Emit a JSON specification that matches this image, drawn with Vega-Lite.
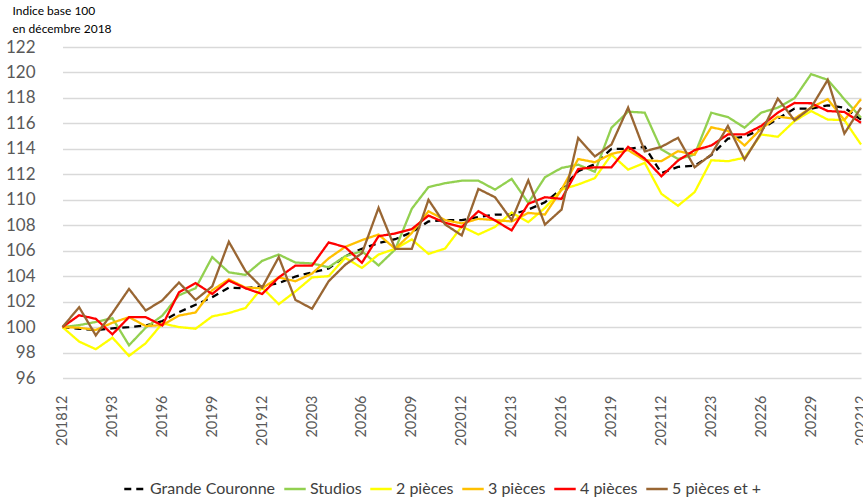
{
"$schema": "https://vega.github.io/schema/vega-lite/v6.json",
"autosize": {"type": "none"},
"padding": {"left": 53, "top": 47, "right": 0, "bottom": 119},
"width": 810,
"height": 331,
"background": "white",
"config": {"view": {"stroke": null}, "font": "Lato"},
"data": {"values": [
{"m":"201812","s":"Grande Couronne","v":100},{"m":"20191","s":"Grande Couronne","v":99.87},{"m":"20192","s":"Grande Couronne","v":99.77},{"m":"20193","s":"Grande Couronne","v":99.9},{"m":"20194","s":"Grande Couronne","v":100.0},{"m":"20195","s":"Grande Couronne","v":100.13},{"m":"20196","s":"Grande Couronne","v":100.47},{"m":"20197","s":"Grande Couronne","v":101.17},{"m":"20198","s":"Grande Couronne","v":101.75},{"m":"20199","s":"Grande Couronne","v":102.35},{"m":"201910","s":"Grande Couronne","v":103.1},{"m":"201911","s":"Grande Couronne","v":103.05},{"m":"201912","s":"Grande Couronne","v":103.2},{"m":"20201","s":"Grande Couronne","v":103.45},{"m":"20202","s":"Grande Couronne","v":103.97},{"m":"20203","s":"Grande Couronne","v":104.3},{"m":"20204","s":"Grande Couronne","v":104.6},{"m":"20205","s":"Grande Couronne","v":105.57},{"m":"20206","s":"Grande Couronne","v":106.15},{"m":"20207","s":"Grande Couronne","v":106.6},{"m":"20208","s":"Grande Couronne","v":106.9},{"m":"20209","s":"Grande Couronne","v":107.45},{"m":"202010","s":"Grande Couronne","v":108.3},{"m":"202011","s":"Grande Couronne","v":108.4},{"m":"202012","s":"Grande Couronne","v":108.4},{"m":"20211","s":"Grande Couronne","v":108.65},{"m":"20212","s":"Grande Couronne","v":108.84},{"m":"20213","s":"Grande Couronne","v":108.84},{"m":"20214","s":"Grande Couronne","v":109.23},{"m":"20215","s":"Grande Couronne","v":109.8},{"m":"20216","s":"Grande Couronne","v":110.85},{"m":"20217","s":"Grande Couronne","v":112.24},{"m":"20218","s":"Grande Couronne","v":112.8},{"m":"20219","s":"Grande Couronne","v":114.0},{"m":"202110","s":"Grande Couronne","v":114.0},{"m":"202111","s":"Grande Couronne","v":114.16},{"m":"202112","s":"Grande Couronne","v":112.1},{"m":"20221","s":"Grande Couronne","v":112.58},{"m":"20222","s":"Grande Couronne","v":112.68},{"m":"20223","s":"Grande Couronne","v":113.5},{"m":"20224","s":"Grande Couronne","v":114.8},{"m":"20225","s":"Grande Couronne","v":114.95},{"m":"20226","s":"Grande Couronne","v":115.53},{"m":"20227","s":"Grande Couronne","v":116.37},{"m":"20228","s":"Grande Couronne","v":117.16},{"m":"20229","s":"Grande Couronne","v":117.16},{"m":"202210","s":"Grande Couronne","v":117.42},{"m":"202211","s":"Grande Couronne","v":117.24},{"m":"202212","s":"Grande Couronne","v":116.3},
{"m":"201812","s":"Studios","v":100},{"m":"20191","s":"Studios","v":100.15},{"m":"20192","s":"Studios","v":100.4},{"m":"20193","s":"Studios","v":100.7},{"m":"20194","s":"Studios","v":98.57},{"m":"20195","s":"Studios","v":99.95},{"m":"20196","s":"Studios","v":100.9},{"m":"20197","s":"Studios","v":102.5},{"m":"20198","s":"Studios","v":103.05},{"m":"20199","s":"Studios","v":105.5},{"m":"201910","s":"Studios","v":104.3},{"m":"201911","s":"Studios","v":104.1},{"m":"201912","s":"Studios","v":105.2},{"m":"20201","s":"Studios","v":105.7},{"m":"20202","s":"Studios","v":105.07},{"m":"20203","s":"Studios","v":105.0},{"m":"20204","s":"Studios","v":104.7},{"m":"20205","s":"Studios","v":105.57},{"m":"20206","s":"Studios","v":105.96},{"m":"20207","s":"Studios","v":104.84},{"m":"20208","s":"Studios","v":106.1},{"m":"20209","s":"Studios","v":109.3},{"m":"202010","s":"Studios","v":111.0},{"m":"202011","s":"Studios","v":111.3},{"m":"202012","s":"Studios","v":111.5},{"m":"20211","s":"Studios","v":111.5},{"m":"20212","s":"Studios","v":110.8},{"m":"20213","s":"Studios","v":111.64},{"m":"20214","s":"Studios","v":109.75},{"m":"20215","s":"Studios","v":111.77},{"m":"20216","s":"Studios","v":112.5},{"m":"20217","s":"Studios","v":112.76},{"m":"20218","s":"Studios","v":112.2},{"m":"20219","s":"Studios","v":115.66},{"m":"202110","s":"Studios","v":116.92},{"m":"202111","s":"Studios","v":116.84},{"m":"202112","s":"Studios","v":113.95},{"m":"20221","s":"Studios","v":113.2},{"m":"20222","s":"Studios","v":113.55},{"m":"20223","s":"Studios","v":116.84},{"m":"20224","s":"Studios","v":116.5},{"m":"20225","s":"Studios","v":115.66},{"m":"20226","s":"Studios","v":116.84},{"m":"20227","s":"Studios","v":117.24},{"m":"20228","s":"Studios","v":117.97},{"m":"20229","s":"Studios","v":119.87},{"m":"202210","s":"Studios","v":119.42},{"m":"202211","s":"Studios","v":117.9},{"m":"202212","s":"Studios","v":116.45},
{"m":"201812","s":"2 pièces","v":100},{"m":"20191","s":"2 pièces","v":98.86},{"m":"20192","s":"2 pièces","v":98.26},{"m":"20193","s":"2 pièces","v":99.17},{"m":"20194","s":"2 pièces","v":97.74},{"m":"20195","s":"2 pièces","v":98.73},{"m":"20196","s":"2 pièces","v":100.29},{"m":"20197","s":"2 pièces","v":100.0},{"m":"20198","s":"2 pièces","v":99.87},{"m":"20199","s":"2 pièces","v":100.84},{"m":"201910","s":"2 pièces","v":101.1},{"m":"201911","s":"2 pièces","v":101.5},{"m":"201912","s":"2 pièces","v":103.1},{"m":"20201","s":"2 pièces","v":101.8},{"m":"20202","s":"2 pièces","v":102.8},{"m":"20203","s":"2 pièces","v":103.9},{"m":"20204","s":"2 pièces","v":104.0},{"m":"20205","s":"2 pièces","v":105.44},{"m":"20206","s":"2 pièces","v":104.65},{"m":"20207","s":"2 pièces","v":105.7},{"m":"20208","s":"2 pièces","v":106.15},{"m":"20209","s":"2 pièces","v":106.88},{"m":"202010","s":"2 pièces","v":105.75},{"m":"202011","s":"2 pièces","v":106.17},{"m":"202012","s":"2 pièces","v":107.9},{"m":"20211","s":"2 pièces","v":107.27},{"m":"20212","s":"2 pièces","v":107.87},{"m":"20213","s":"2 pièces","v":109.0},{"m":"20214","s":"2 pièces","v":108.24},{"m":"20215","s":"2 pièces","v":109.36},{"m":"20216","s":"2 pièces","v":110.8},{"m":"20217","s":"2 pièces","v":111.2},{"m":"20218","s":"2 pièces","v":111.7},{"m":"20219","s":"2 pièces","v":113.55},{"m":"202110","s":"2 pièces","v":112.37},{"m":"202111","s":"2 pièces","v":112.9},{"m":"202112","s":"2 pièces","v":110.47},{"m":"20221","s":"2 pièces","v":109.53},{"m":"20222","s":"2 pièces","v":110.6},{"m":"20223","s":"2 pièces","v":113.1},{"m":"20224","s":"2 pièces","v":113.03},{"m":"20225","s":"2 pièces","v":113.3},{"m":"20226","s":"2 pièces","v":115.13},{"m":"20227","s":"2 pièces","v":114.95},{"m":"20228","s":"2 pièces","v":116.18},{"m":"20229","s":"2 pièces","v":116.97},{"m":"202210","s":"2 pièces","v":116.3},{"m":"202211","s":"2 pièces","v":116.26},{"m":"202212","s":"2 pièces","v":114.34},
{"m":"201812","s":"3 pièces","v":100},{"m":"20191","s":"3 pièces","v":99.95},{"m":"20192","s":"3 pièces","v":99.77},{"m":"20193","s":"3 pièces","v":100.34},{"m":"20194","s":"3 pièces","v":100.78},{"m":"20195","s":"3 pièces","v":100.08},{"m":"20196","s":"3 pièces","v":100.15},{"m":"20197","s":"3 pièces","v":100.9},{"m":"20198","s":"3 pièces","v":101.15},{"m":"20199","s":"3 pièces","v":102.9},{"m":"201910","s":"3 pièces","v":103.75},{"m":"201911","s":"3 pièces","v":103.1},{"m":"201912","s":"3 pièces","v":103.05},{"m":"20201","s":"3 pièces","v":103.9},{"m":"20202","s":"3 pièces","v":103.6},{"m":"20203","s":"3 pièces","v":104.2},{"m":"20204","s":"3 pièces","v":105.4},{"m":"20205","s":"3 pièces","v":106.3},{"m":"20206","s":"3 pièces","v":106.83},{"m":"20207","s":"3 pièces","v":107.27},{"m":"20208","s":"3 pièces","v":106.15},{"m":"20209","s":"3 pièces","v":107.4},{"m":"202010","s":"3 pièces","v":109.1},{"m":"202011","s":"3 pièces","v":108.4},{"m":"202012","s":"3 pièces","v":108.15},{"m":"20211","s":"3 pièces","v":108.5},{"m":"20212","s":"3 pièces","v":108.4},{"m":"20213","s":"3 pièces","v":108.3},{"m":"20214","s":"3 pièces","v":108.97},{"m":"20215","s":"3 pièces","v":108.84},{"m":"20216","s":"3 pièces","v":110.8},{"m":"20217","s":"3 pièces","v":113.2},{"m":"20218","s":"3 pièces","v":112.95},{"m":"20219","s":"3 pièces","v":113.6},{"m":"202110","s":"3 pièces","v":113.9},{"m":"202111","s":"3 pièces","v":113.1},{"m":"202112","s":"3 pièces","v":113.03},{"m":"20221","s":"3 pièces","v":113.82},{"m":"20222","s":"3 pièces","v":113.55},{"m":"20223","s":"3 pièces","v":115.7},{"m":"20224","s":"3 pièces","v":115.4},{"m":"20225","s":"3 pièces","v":114.26},{"m":"20226","s":"3 pièces","v":115.58},{"m":"20227","s":"3 pièces","v":116.53},{"m":"20228","s":"3 pièces","v":116.37},{"m":"20229","s":"3 pièces","v":117.24},{"m":"202210","s":"3 pièces","v":117.9},{"m":"202211","s":"3 pièces","v":116.26},{"m":"202212","s":"3 pièces","v":117.9},
{"m":"201812","s":"4 pièces","v":100},{"m":"20191","s":"4 pièces","v":100.93},{"m":"20192","s":"4 pièces","v":100.65},{"m":"20193","s":"4 pièces","v":99.43},{"m":"20194","s":"4 pièces","v":100.78},{"m":"20195","s":"4 pièces","v":100.78},{"m":"20196","s":"4 pièces","v":100.13},{"m":"20197","s":"4 pièces","v":102.73},{"m":"20198","s":"4 pièces","v":103.45},{"m":"20199","s":"4 pièces","v":102.6},{"m":"201910","s":"4 pièces","v":103.65},{"m":"201911","s":"4 pièces","v":103.05},{"m":"201912","s":"4 pièces","v":102.6},{"m":"20201","s":"4 pièces","v":103.9},{"m":"20202","s":"4 pièces","v":104.83},{"m":"20203","s":"4 pièces","v":104.83},{"m":"20204","s":"4 pièces","v":106.65},{"m":"20205","s":"4 pièces","v":106.28},{"m":"20206","s":"4 pièces","v":105.05},{"m":"20207","s":"4 pièces","v":107.14},{"m":"20208","s":"4 pièces","v":107.35},{"m":"20209","s":"4 pièces","v":107.7},{"m":"202010","s":"4 pièces","v":108.76},{"m":"202011","s":"4 pièces","v":108.19},{"m":"202012","s":"4 pièces","v":107.85},{"m":"20211","s":"4 pièces","v":109.1},{"m":"20212","s":"4 pièces","v":108.37},{"m":"20213","s":"4 pièces","v":107.6},{"m":"20214","s":"4 pièces","v":109.68},{"m":"20215","s":"4 pièces","v":110.2},{"m":"20216","s":"4 pièces","v":110.07},{"m":"20217","s":"4 pièces","v":112.42},{"m":"20218","s":"4 pièces","v":112.55},{"m":"20219","s":"4 pièces","v":112.55},{"m":"202110","s":"4 pièces","v":114.16},{"m":"202111","s":"4 pièces","v":113.24},{"m":"202112","s":"4 pièces","v":111.84},{"m":"20221","s":"4 pièces","v":113.08},{"m":"20222","s":"4 pièces","v":113.9},{"m":"20223","s":"4 pièces","v":114.26},{"m":"20224","s":"4 pièces","v":115.13},{"m":"20225","s":"4 pièces","v":115.13},{"m":"20226","s":"4 pièces","v":115.8},{"m":"20227","s":"4 pièces","v":116.84},{"m":"20228","s":"4 pièces","v":117.6},{"m":"20229","s":"4 pièces","v":117.58},{"m":"202210","s":"4 pièces","v":116.97},{"m":"202211","s":"4 pièces","v":116.9},{"m":"202212","s":"4 pièces","v":116.05},
{"m":"201812","s":"5 pièces et +","v":100},{"m":"20191","s":"5 pièces et +","v":101.56},{"m":"20192","s":"5 pièces et +","v":99.35},{"m":"20193","s":"5 pièces et +","v":101.1},{"m":"20194","s":"5 pièces et +","v":103.0},{"m":"20195","s":"5 pièces et +","v":101.3},{"m":"20196","s":"5 pièces et +","v":102.1},{"m":"20197","s":"5 pièces et +","v":103.5},{"m":"20198","s":"5 pièces et +","v":102.14},{"m":"20199","s":"5 pièces et +","v":103.2},{"m":"201910","s":"5 pièces et +","v":106.7},{"m":"201911","s":"5 pièces et +","v":104.4},{"m":"201912","s":"5 pièces et +","v":103.1},{"m":"20201","s":"5 pièces et +","v":105.5},{"m":"20202","s":"5 pièces et +","v":102.14},{"m":"20203","s":"5 pièces et +","v":101.44},{"m":"20204","s":"5 pièces et +","v":103.6},{"m":"20205","s":"5 pièces et +","v":104.9},{"m":"20206","s":"5 pièces et +","v":105.8},{"m":"20207","s":"5 pièces et +","v":109.37},{"m":"20208","s":"5 pièces et +","v":106.15},{"m":"20209","s":"5 pièces et +","v":106.15},{"m":"202010","s":"5 pièces et +","v":110.0},{"m":"202011","s":"5 pièces et +","v":108.06},{"m":"202012","s":"5 pièces et +","v":107.2},{"m":"20211","s":"5 pièces et +","v":110.85},{"m":"20212","s":"5 pièces et +","v":110.2},{"m":"20213","s":"5 pièces et +","v":108.4},{"m":"20214","s":"5 pièces et +","v":111.53},{"m":"20215","s":"5 pièces et +","v":108.05},{"m":"20216","s":"5 pièces et +","v":109.23},{"m":"20217","s":"5 pièces et +","v":114.86},{"m":"20218","s":"5 pièces et +","v":113.4},{"m":"20219","s":"5 pièces et +","v":114.34},{"m":"202110","s":"5 pièces et +","v":117.24},{"m":"202111","s":"5 pièces et +","v":113.8},{"m":"202112","s":"5 pièces et +","v":114.16},{"m":"20221","s":"5 pièces et +","v":114.87},{"m":"20222","s":"5 pièces et +","v":112.55},{"m":"20223","s":"5 pièces et +","v":113.55},{"m":"20224","s":"5 pièces et +","v":115.8},{"m":"20225","s":"5 pièces et +","v":113.16},{"m":"20226","s":"5 pièces et +","v":115.26},{"m":"20227","s":"5 pièces et +","v":117.95},{"m":"20228","s":"5 pièces et +","v":116.24},{"m":"20229","s":"5 pièces et +","v":117.24},{"m":"202210","s":"5 pièces et +","v":119.42},{"m":"202211","s":"5 pièces et +","v":115.2},{"m":"202212","s":"5 pièces et +","v":117.24}
]},
"mark": {"type": "line", "strokeWidth": 2.3},
"encoding": {
"x": {"field": "m", "type": "ordinal", "sort": null,
 "scale": {"type": "point", "range": [9.5, 808], "padding": 0},
 "axis": {"title": null, "values": ["201812","20193","20196","20199","201912","20203","20206","20209","202012","20213","20216","20219","202112","20223","20226","20229","202212"],
  "labelAngle": -90, "labelFontSize": 14.5, "labelColor": "#595959", "labelPadding": 17, "ticks": false, "domain": false, "grid": false}},
"y": {"field": "v", "type": "quantitative",
 "scale": {"domain": [96, 122], "nice": false, "zero": false},
 "axis": {"values": [96,98,100,102,104,106,108,110,112,114,116,118,120,122],
  "title": ["Indice base 100", "en décembre 2018"], "titleAngle": 0, "titleAlign": "left", "titleBaseline": "top",
  "titleX": -41, "titleY": -42, "titleFontSize": 12, "titleFontWeight": "normal", "titleColor": "#000000", "titleLineHeight": 18,
  "labelFontSize": 17, "labelColor": "#595959", "labelPadding": 18, "ticks": false, "domain": false,
  "gridColor": "#d9d9d9", "gridWidth": 1.3}},
"color": {"field": "s", "type": "nominal",
 "scale": {"domain": ["Grande Couronne","Studios","2 pièces","3 pièces","4 pièces","5 pièces et +"],
  "range": ["#000000","#92D050","#FFFF00","#FFC000","#FF0000","#996633"]},
 "legend": {"title": null, "orient": "none", "legendX": 70, "legendY": 430, "direction": "horizontal", "columns": 6,
  "symbolType": "stroke", "symbolSize": 460, "symbolStrokeWidth": 2.5, "labelFontSize": 16, "labelColor": "#404040",
  "labelOffset": 3, "columnPadding": 3}},
"strokeDash": {"field": "s", "type": "nominal",
 "scale": {"domain": ["Grande Couronne","Studios","2 pièces","3 pièces","4 pièces","5 pièces et +"],
  "range": [[7,5],[1,0],[1,0],[1,0],[1,0],[1,0]]},
 "legend": {"title": null, "orient": "none", "legendX": 70, "legendY": 430, "direction": "horizontal", "columns": 6,
  "symbolType": "stroke", "symbolSize": 460, "symbolStrokeWidth": 2.5, "labelFontSize": 16, "labelColor": "#404040",
  "labelOffset": 3, "columnPadding": 3}}
}
}
